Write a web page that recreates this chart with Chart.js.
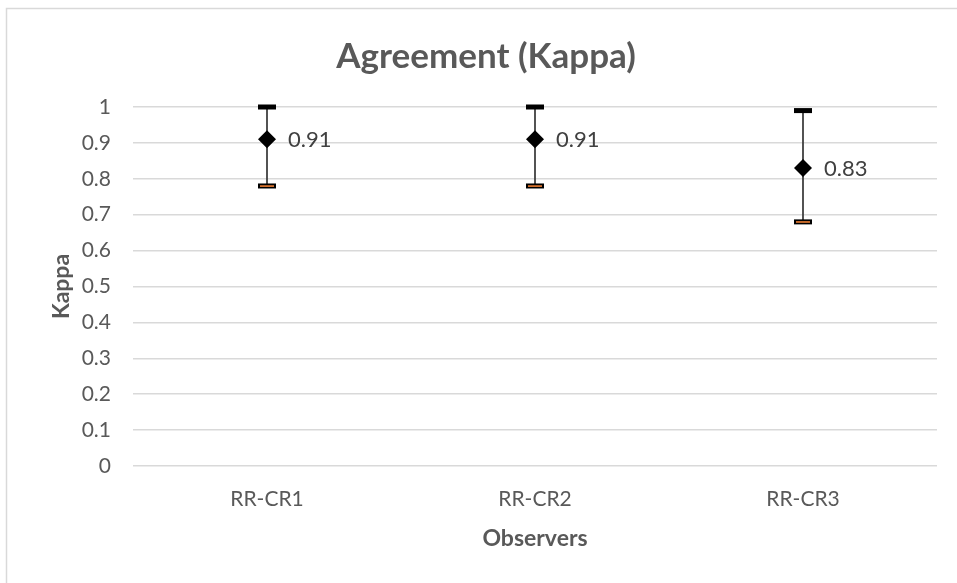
<!DOCTYPE html>
<html><head><meta charset="utf-8">
<script src="https://cdn.jsdelivr.net/npm/chart.js@4.4.1/dist/chart.umd.min.js"></script>
<style>html,body{margin:0;padding:0;background:#fff;}#wrap{width:957px;height:583px;position:relative;}</style>
</head><body><div id="wrap"><canvas id="c"></canvas></div>
<script>
const categories = ["RR-CR1", "RR-CR2", "RR-CR3"];
const kappa = [0.91, 0.91, 0.83];
const upper = [1.0, 1.0, 0.99];
const lower = [0.78, 0.78, 0.68];
const valueLabels = ["0.91", "0.91", "0.83"];
const yTicks = [0, 0.1, 0.2, 0.3, 0.4, 0.5, 0.6, 0.7, 0.8, 0.9, 1];

const FONT = "Lato, 'Open Sans', sans-serif";
const GREY = "#595959";

const errorBars = {
  id: 'errorBars',
  beforeDraw(chart) {
    const ctx = chart.ctx;
    ctx.save();
    ctx.strokeStyle = '#d9d9d9';
    ctx.lineWidth = 1.5;
    ctx.beginPath();
    ctx.moveTo(6.5, 600); ctx.lineTo(6.5, 8.5); ctx.lineTo(1000, 8.5);
    ctx.stroke();
    ctx.restore();
  },
  afterDatasetsDraw(chart) {
    const ctx = chart.ctx;
    const xs = chart.scales.x, ys = chart.scales.y;
    ctx.save();
    categories.forEach((c, i) => {
      const x = xs.getPixelForValue(i);
      const yt = ys.getPixelForValue(upper[i]);
      const yb = ys.getPixelForValue(lower[i]);
      const ym = ys.getPixelForValue(kappa[i]);
      ctx.strokeStyle = '#404040';
      ctx.lineWidth = 1.8;
      ctx.beginPath(); ctx.moveTo(x, yt); ctx.lineTo(x, yb); ctx.stroke();
      ctx.fillStyle = '#000';
      ctx.fillRect(x - 9, yt - 2.5, 18, 5);
      ctx.fillRect(x - 9, yb - 2.5, 18, 5);
      ctx.fillStyle = '#ED7D31';
      ctx.fillRect(x - 7, yb - 0.7, 14, 1.6);
      ctx.fillStyle = '#000';
      ctx.beginPath();
      ctx.moveTo(x, ym - 9); ctx.lineTo(x + 9, ym); ctx.lineTo(x, ym + 9); ctx.lineTo(x - 9, ym);
      ctx.closePath(); ctx.fill();
      ctx.fillStyle = '#404040';
      ctx.font = "22px " + FONT;
      ctx.textAlign = 'left'; ctx.textBaseline = 'middle';
      ctx.fillText(valueLabels[i], x + 21, ym + 1);
    });
    ctx.restore();
  }
};

new Chart(document.getElementById('c'), {
  type: 'line',
  data: {
    labels: categories,
    datasets: [{
      data: kappa,
      showLine: false,
      pointRadius: 0,
      pointHoverRadius: 0,
      borderColor: '#000',
      backgroundColor: '#000'
    }]
  },
  options: {
    responsive: true,
    maintainAspectRatio: false,
    animation: false,
    events: [],
    layout: { padding: { left: 35, right: 20, top: 0, bottom: 0 } },
    plugins: {
      legend: { display: false },
      tooltip: { enabled: false },
      title: {
        display: true,
        text: 'Agreement (Kappa)',
        color: GREY,
        font: { family: FONT, size: 35, weight: 'bold' },
        padding: { top: 36, bottom: 29 }
      }
    },
    scales: {
      x: {
        type: 'category',
        offset: true,
        grid: { display: false, drawTicks: false },
        border: { display: false },
        ticks: { color: GREY, font: { family: FONT, size: 21 }, padding: 21 },
        title: { display: true, text: 'Observers', color: GREY, font: { family: FONT, size: 23, weight: 'bold' }, padding: { top: 0, bottom: 31 } },
        afterFit(s) { s.height = 117; }
      },
      y: {
        min: 0, max: 1,
        afterBuildTicks(s) { s.ticks = yTicks.map(v => ({ value: v })); },
        grid: { color: '#d9d9d9', lineWidth: 1.5, drawTicks: false },
        border: { display: false },
        ticks: { color: GREY, font: { family: FONT, size: 21 }, padding: 22, callback: v => String(v) },
        title: { display: true, text: 'Kappa', color: GREY, font: { family: FONT, size: 23, weight: 'bold' }, padding: { top: 13, bottom: 0 } },
        afterFit(s) { s.width = 98; }
      }
    }
  },
  plugins: [errorBars]
});
</script>
</body></html>
